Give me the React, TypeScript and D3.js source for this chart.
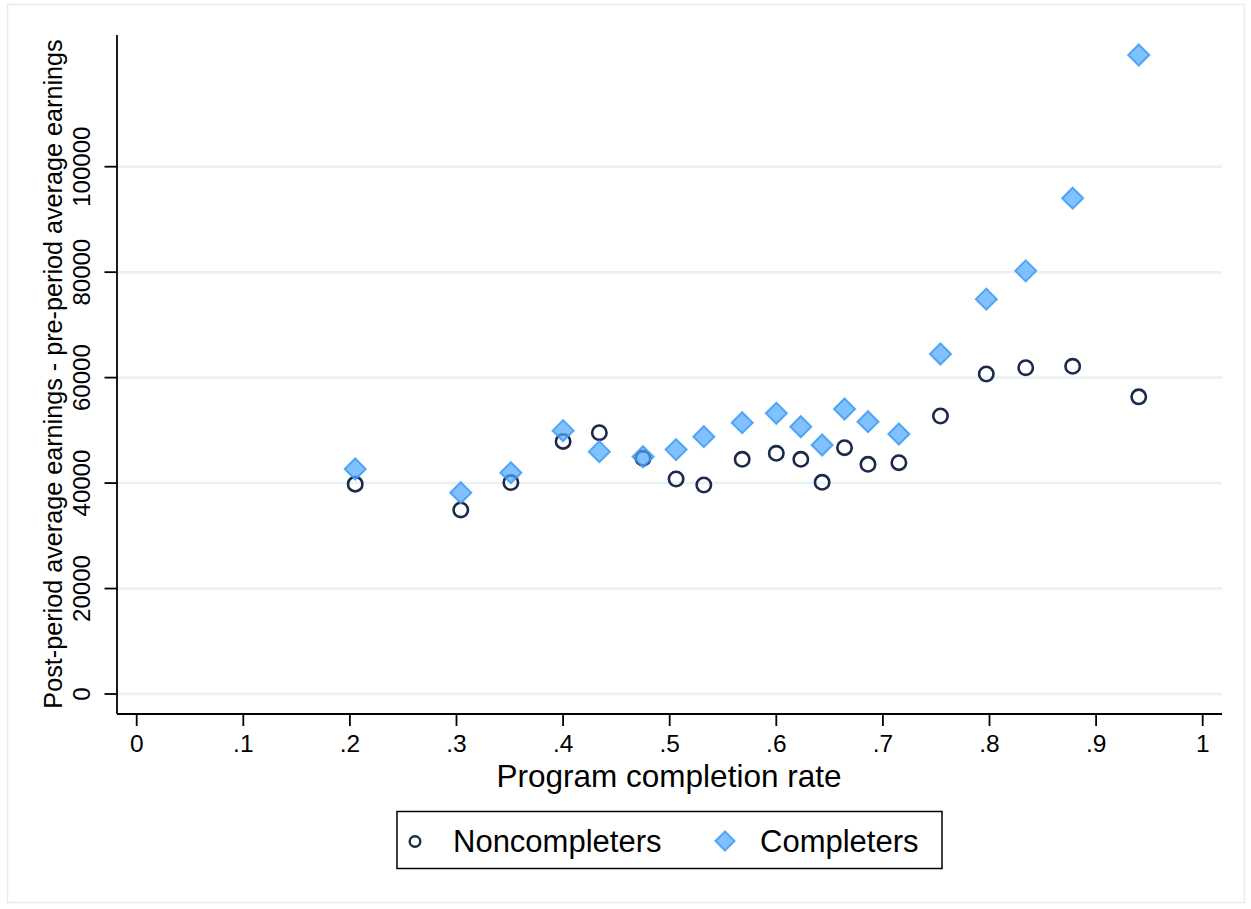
import React from "react";
import * as d3 from "d3";

const completionRate = [0.205, 0.304, 0.351, 0.4, 0.434, 0.475, 0.506, 0.532, 0.568, 0.6, 0.623, 0.643, 0.664, 0.686, 0.715, 0.754, 0.797, 0.834, 0.878, 0.94];
const noncompleters = [39800, 34900, 40100, 47900, 49550, 44700, 40770, 39640, 44510, 45650, 44510, 40140, 46710, 43560, 43870, 52720, 60690, 61880, 62150, 56350];
const completers = [42670, 38180, 41970, 49940, 45960, 45000, 46350, 48800, 51450, 53230, 50690, 47220, 54050, 51640, 49310, 64480, 74880, 80250, 94030, 121180];
const xTicks = [0, 0.1, 0.2, 0.3, 0.4, 0.5, 0.6, 0.7, 0.8, 0.9, 1];
const yTicks = [0, 20000, 40000, 60000, 80000, 100000];

const W = 1251;
const H = 909;
const FONT = "'Liberation Sans', Arial, Helvetica, sans-serif";

export default function App() {
  const x = d3.scaleLinear().domain([0, 1]).range([136.7, 1202.7]);
  const y = d3.scaleLinear().domain([0, 100000]).range([694, 166.7]);
  const axisX = 117;
  const axisY = 714;
  const plotRight = 1222;
  const plotTop = 35;
  const fmtX = (v: number) => (v === 0 ? "0" : v === 1 ? "1" : d3.format(".1f")(v).replace(/^0/, ""));
  const diamond = (cx: number, cy: number, r: number) =>
    `M${cx},${cy - r}L${cx + r},${cy}L${cx},${cy + r}L${cx - r},${cy}Z`;
  const navy = "#1b2a4b";
  const blueFill = "#4da6ff";
  const blueStroke = "#3d9bf5";

  return (
    <svg width={W} height={H} style={{ position: "absolute", left: 0, top: 0, background: "#fff" }} fontFamily={FONT}>
      <rect x={0} y={0} width={W} height={H} fill="#fff" />
      <rect x={7.5} y={4.5} width={1237} height={898} fill="none" stroke="#e4ecee" strokeWidth={1.5} />
      {/* gridlines */}
      {yTicks.map((t) => (
        <line key={"g" + t} x1={axisX} x2={plotRight} y1={y(t)} y2={y(t)} stroke="#e9f0f2" strokeWidth={2.5} />
      ))}
      {/* axes */}
      <line x1={axisX} x2={axisX} y1={plotTop} y2={axisY} stroke="#000" strokeWidth={1.8} />
      <line x1={axisX} x2={plotRight} y1={axisY} y2={axisY} stroke="#000" strokeWidth={1.8} />
      {yTicks.map((t) => (
        <g key={"yt" + t}>
          <line x1={axisX - 12.5} x2={axisX} y1={y(t)} y2={y(t)} stroke="#000" strokeWidth={1.8} />
          <text
            transform={`translate(90,${y(t)}) rotate(-90)`}
            textAnchor="middle"
            fontSize={24}
            fill="#000"
          >
            {String(t)}
          </text>
        </g>
      ))}
      {xTicks.map((t) => (
        <g key={"xt" + t}>
          <line x1={x(t)} x2={x(t)} y1={axisY} y2={axisY + 12} stroke="#000" strokeWidth={1.8} />
          <text x={x(t)} y={752} textAnchor="middle" fontSize={24.5} fill="#000">
            {fmtX(t)}
          </text>
        </g>
      ))}
      <text x={669} y={787} textAnchor="middle" fontSize={31.5} fill="#000">
        Program completion rate
      </text>
      <text transform={`translate(62,374) rotate(-90)`} textAnchor="middle" fontSize={25.2} fill="#000">
        Post-period average earnings - pre-period average earnings
      </text>
      {/* points */}
      {completionRate.map((c, i) => (
        <circle key={"n" + i} cx={x(c)} cy={y(noncompleters[i])} r={7.2} fill="none" stroke={navy} strokeWidth={2.6} />
      ))}
      {completionRate.map((c, i) => (
        <path
          key={"c" + i}
          d={diamond(x(c), y(completers[i]), 10.5)}
          fill={blueFill}
          fillOpacity={0.7}
          stroke={blueStroke}
          strokeOpacity={0.85}
          strokeWidth={2}
        />
      ))}
      {/* legend */}
      <rect x={397} y={811.5} width={545} height={57} fill="#fff" stroke="#000" strokeWidth={1.5} />
      <circle cx={415} cy={841.5} r={5.3} fill="none" stroke={navy} strokeWidth={2.4} />
      <text x={453} y={852} fontSize={31} fill="#000">
        Noncompleters
      </text>
      <path d={diamond(725, 841, 9.5)} fill={blueFill} fillOpacity={0.7} stroke={blueStroke} strokeOpacity={0.85} strokeWidth={2} />
      <text x={760} y={852} fontSize={31} fill="#000">
        Completers
      </text>
    </svg>
  );
}
